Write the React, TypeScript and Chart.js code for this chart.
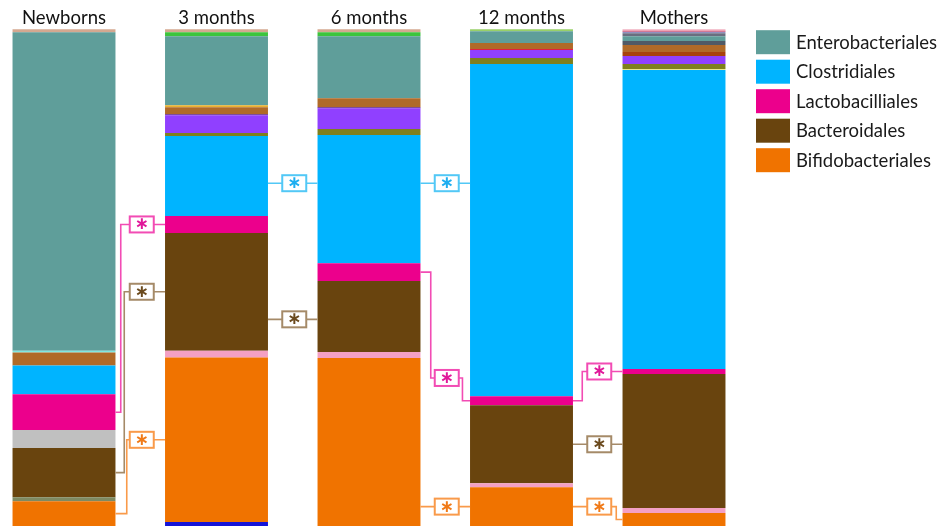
import { useEffect, useRef } from 'react';
import { Chart, registerables } from 'chart.js';

Chart.register(...registerables);

// Sample groups along the x axis
const groups = ['Newborns', '3 months', '6 months', '12 months', 'Mothers'];

// Relative abundance (% of reads) per bacterial order, listed bottom → top of each stack
const deepBlue = [0, 0.8, 0, 0, 0];
const bifidobacteriales = [5.0, 33.1, 33.8, 7.8, 2.6];
const oliveGrey = [0.8, 0, 0, 0, 0];
const palePink = [0, 1.4, 1.2, 0.8, 1.0];
const bacteroidales = [9.9, 23.7, 14.3, 15.7, 27.0];
const silver = [3.6, 0, 0, 0, 0];
const lactobacilliales = [7.2, 3.4, 3.6, 1.8, 1.0];
const clostridiales = [5.8, 16.1, 25.8, 66.9, 60.2];
const paleYellow = [0, 0, 0, 0, 0.2];
const olive = [0, 0.6, 1.2, 1.2, 1.0];
const violet = [0, 3.6, 4.2, 1.6, 1.6];
const darkViolet = [0, 0.2, 0.2, 0, 0];
const red = [0, 0, 0, 0.2, 0];
const rust = [0, 0, 0, 0, 0.8];
const ochre = [2.6, 1.4, 1.8, 1.2, 1.4];
const gold = [0, 0.4, 0, 0, 0];
const aqua = [0.4, 0, 0, 0, 0];
const slate = [0, 0, 0, 0, 0.8];
const enterobacteriales = [64.1, 13.9, 12.5, 2.4, 1.0];
const slateTop = [0, 0, 0, 0, 0.6];
const green = [0, 0.8, 0.8, 0, 0];
const lightGreen = [0, 0, 0, 0.4, 0];
const tan = [0.6, 0.6, 0.6, 0, 0];
const lavender = [0, 0, 0, 0, 0.3];
const rose = [0, 0, 0, 0, 0.2];
const blush = [0, 0, 0, 0, 0.3];

// Legend entries (the five highlighted orders)
const legendLabels = ['Enterobacteriales', 'Clostridiales', 'Lactobacilliales', 'Bacteroidales', 'Bifidobacteriales'];

const COLORS: Record<string, string> = {
  Enterobacteriales: '#5f9e9a',
  Clostridiales: '#00b4ff',
  Lactobacilliales: '#ec008c',
  Bacteroidales: '#69440e',
  Bifidobacteriales: '#f07300',
};

const layers: { label: string; data: number[]; color: string }[] = [
  { label: 'deepBlue', data: deepBlue, color: '#1414d8' },
  { label: 'Bifidobacteriales', data: bifidobacteriales, color: COLORS.Bifidobacteriales },
  { label: 'oliveGrey', data: oliveGrey, color: '#7e8a62' },
  { label: 'palePink', data: palePink, color: '#f4a0c4' },
  { label: 'Bacteroidales', data: bacteroidales, color: COLORS.Bacteroidales },
  { label: 'silver', data: silver, color: '#c0c0c0' },
  { label: 'Lactobacilliales', data: lactobacilliales, color: COLORS.Lactobacilliales },
  { label: 'Clostridiales', data: clostridiales, color: COLORS.Clostridiales },
  { label: 'paleYellow', data: paleYellow, color: '#e8e890' },
  { label: 'olive', data: olive, color: '#7f7f1e' },
  { label: 'violet', data: violet, color: '#9040ff' },
  { label: 'darkViolet', data: darkViolet, color: '#5a1e8c' },
  { label: 'red', data: red, color: '#e02040' },
  { label: 'rust', data: rust, color: '#a8420e' },
  { label: 'ochre', data: ochre, color: '#b06a28' },
  { label: 'gold', data: gold, color: '#e8b030' },
  { label: 'aqua', data: aqua, color: '#80e8e0' },
  { label: 'slate', data: slate, color: '#505a66' },
  { label: 'Enterobacteriales', data: enterobacteriales, color: COLORS.Enterobacteriales },
  { label: 'slateTop', data: slateTop, color: '#6a6e80' },
  { label: 'green', data: green, color: '#3cc43c' },
  { label: 'lightGreen', data: lightGreen, color: '#98d068' },
  { label: 'tan', data: tan, color: '#d4a890' },
  { label: 'lavender', data: lavender, color: '#9090c0' },
  { label: 'rose', data: rose, color: '#e04060' },
  { label: 'blush', data: blush, color: '#f0b0c0' },
];

// Significance connectors between neighbouring groups.
// An anchor is either the middle of an order's segment in a bar, or a fixed level (%).
type Anchor = { bar: number; seg: string } | { level: number };
type Connector = {
  from: number;
  line: string;
  star: string;
  start: Anchor;
  box: Anchor;
  end: Anchor;
  bendIn?: number;
  bendOut?: number;
};

const LINE = {
  pink: { line: '#f24cb4', star: '#e0189a' },
  brown: { line: '#a58a68', star: '#6b4a1e' },
  orange: { line: '#f99a4a', star: '#f07a18' },
  blue: { line: '#52c8f6', star: '#1eaef0' },
};

const connectors: Connector[] = [
  { from: 0, ...LINE.pink, start: { bar: 0, seg: 'Lactobacilliales' }, box: { bar: 1, seg: 'Lactobacilliales' }, end: { bar: 1, seg: 'Lactobacilliales' }, bendIn: 9 },
  { from: 0, ...LINE.brown, start: { bar: 0, seg: 'Bacteroidales' }, box: { bar: 1, seg: 'Bacteroidales' }, end: { bar: 1, seg: 'Bacteroidales' }, bendIn: 5.5 },
  { from: 0, ...LINE.orange, start: { bar: 0, seg: 'Bifidobacteriales' }, box: { bar: 1, seg: 'Bifidobacteriales' }, end: { bar: 1, seg: 'Bifidobacteriales' }, bendIn: 3 },
  { from: 1, ...LINE.blue, start: { level: 69 }, box: { level: 69 }, end: { level: 69 } },
  { from: 1, ...LINE.brown, start: { level: 41.6 }, box: { level: 41.6 }, end: { level: 41.6 } },
  { from: 2, ...LINE.blue, start: { level: 69 }, box: { level: 69 }, end: { level: 69 } },
  { from: 2, ...LINE.pink, start: { bar: 2, seg: 'Lactobacilliales' }, box: { level: 29.8 }, end: { bar: 3, seg: 'Lactobacilliales' }, bendIn: 4, bendOut: 3.7 },
  { from: 2, ...LINE.orange, start: { bar: 3, seg: 'Bifidobacteriales' }, box: { bar: 3, seg: 'Bifidobacteriales' }, end: { bar: 3, seg: 'Bifidobacteriales' } },
  { from: 3, ...LINE.pink, start: { bar: 3, seg: 'Lactobacilliales' }, box: { bar: 4, seg: 'Lactobacilliales' }, end: { bar: 4, seg: 'Lactobacilliales' }, bendIn: 5 },
  { from: 3, ...LINE.brown, start: { bar: 3, seg: 'Bacteroidales' }, box: { bar: 3, seg: 'Bacteroidales' }, end: { bar: 3, seg: 'Bacteroidales' } },
  { from: 3, ...LINE.orange, start: { bar: 3, seg: 'Bifidobacteriales' }, box: { bar: 3, seg: 'Bifidobacteriales' }, end: { bar: 4, seg: 'Bifidobacteriales' }, bendOut: 5 },
];

const BOX_W = 24;
const BOX_H = 16;

const connectorPlugin = {
  id: 'connectors',
  afterDatasetsDraw(chart: any) {
    const { ctx } = chart;
    const yScale = chart.scales.y;
    const xScale = chart.scales.x;
    const idxOf = (label: string) => chart.data.datasets.findIndex((d: any) => d.label === label);
    const refIdx = idxOf('Bifidobacteriales');

    const anchorY = (a: Anchor) => {
      if ('level' in a) return yScale.getPixelForValue(a.level);
      const el = chart.getDatasetMeta(idxOf(a.seg)).data[a.bar];
      const { y, base } = el.getProps(['y', 'base'], true);
      return (y + base) / 2;
    };
    const edge = (bar: number, side: 'left' | 'right') => {
      const el = chart.getDatasetMeta(refIdx).data[bar];
      const { x, width } = el.getProps(['x', 'width'], true);
      return side === 'right' ? x + width / 2 : x - width / 2;
    };

    ctx.save();
    for (const c of connectors) {
      const x0 = edge(c.from, 'right');
      const x3 = edge(c.from + 1, 'left');
      const bx = (xScale.getPixelForValue(c.from) + xScale.getPixelForValue(c.from + 1)) / 2 + 1.5;
      const bl = bx - BOX_W / 2;
      const br = bx + BOX_W / 2;
      const y1 = anchorY(c.start);
      const yb = anchorY(c.box);
      const y2 = anchorY(c.end);

      ctx.strokeStyle = c.line;
      ctx.lineWidth = 1.6;
      ctx.lineJoin = 'miter';
      ctx.beginPath();
      ctx.moveTo(x0, y1);
      if (Math.abs(y1 - yb) > 0.5) {
        const xb = bl - (c.bendIn ?? 4);
        ctx.lineTo(xb, y1);
        ctx.lineTo(xb, yb);
      }
      ctx.lineTo(bl, yb);
      ctx.moveTo(br, yb);
      if (Math.abs(y2 - yb) > 0.5) {
        const xa = br + (c.bendOut ?? 4);
        ctx.lineTo(xa, yb);
        ctx.lineTo(xa, y2);
      }
      ctx.lineTo(x3, y2);
      ctx.stroke();

      ctx.fillStyle = '#ffffff';
      ctx.fillRect(bl, yb - BOX_H / 2, BOX_W, BOX_H);
      ctx.lineWidth = 2;
      ctx.strokeRect(bl, yb - BOX_H / 2, BOX_W, BOX_H);

      ctx.fillStyle = c.star;
      ctx.font = 'bold 17px "DejaVu Sans"';
      ctx.textAlign = 'center';
      ctx.textBaseline = 'middle';
      ctx.fillText('\u2217', bx, yb + 0.5);
    }
    ctx.restore();
  },
};

const legendPlugin = {
  id: 'orderLegend',
  afterDraw(chart: any) {
    const { ctx, chartArea } = chart;
    const x = chartArea.right + 82;
    ctx.save();
    legendLabels.forEach((label, i) => {
      const top = chartArea.top + 1 + i * 29.5;
      ctx.fillStyle = COLORS[label];
      ctx.fillRect(x, top, 34, 24);
      ctx.fillStyle = '#1a1a1a';
      ctx.font = '18.5px Lato';
      ctx.textAlign = 'left';
      ctx.textBaseline = 'middle';
      ctx.fillText(label, x + 40, top + 12.5);
    });
    ctx.restore();
  },
};

export default function App() {
  const canvasRef = useRef<HTMLCanvasElement | null>(null);

  useEffect(() => {
    const canvas = canvasRef.current;
    if (!canvas) return;
    const chart = new Chart(canvas, {
      type: 'bar',
      data: {
        labels: groups,
        datasets: layers.map((l) => ({
          label: l.label,
          data: l.data,
          backgroundColor: l.color,
          borderWidth: 0,
          categoryPercentage: 1,
          barPercentage: 0.675,
          clip: false as any,
        })),
      },
      options: {
        responsive: false,
        animation: false,
        events: [],
        layout: { padding: { left: 64, right: 273, top: 7, bottom: 0 } },
        plugins: {
          legend: { display: false },
          tooltip: { enabled: false },
        },
        scales: {
          x: {
            type: 'category',
            position: 'top',
            stacked: true,
            offset: false,
            grid: { display: false, drawTicks: false },
            border: { display: false },
            ticks: {
              color: '#111111',
              font: { family: 'Lato', size: 18.5 },
              padding: 0,
              maxRotation: 0,
              autoSkip: false,
            },
          },
          y: {
            stacked: true,
            min: 0,
            max: 100,
            display: false,
          },
        },
      },
      plugins: [connectorPlugin, legendPlugin],
    });
    return () => chart.destroy();
  }, []);

  return (
    <div style={{ position: 'fixed', left: 0, top: 0, width: 947, height: 526, background: '#ffffff' }}>
      <canvas ref={canvasRef} width={947} height={526} style={{ display: 'block' }} />
    </div>
  );
}
